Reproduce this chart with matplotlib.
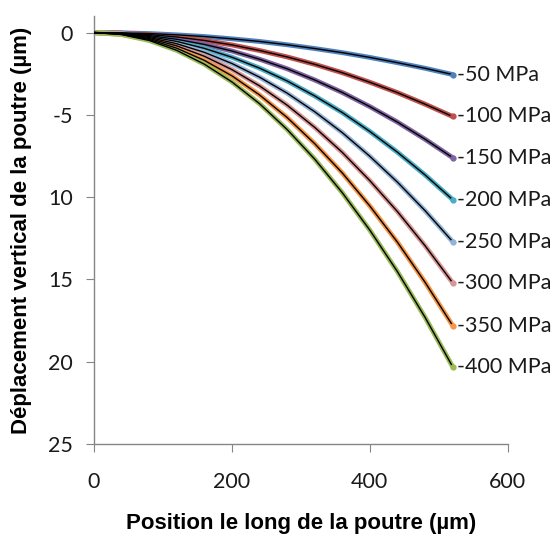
import matplotlib.pyplot as plt

# position along the beam (um)
x = [0, 40, 80, 120, 160, 200, 240, 280, 320, 360, 400, 440, 480, 520]

# vertical deflection (um) for each stress level
d50 = [0, -0.02, -0.06, -0.14, -0.24, -0.38, -0.54, -0.74, -0.97, -1.22, -1.51, -1.83, -2.17, -2.55]
d100 = [0, -0.03, -0.12, -0.27, -0.48, -0.75, -1.09, -1.48, -1.93, -2.44, -3.02, -3.65, -4.35, -5.1]
d150 = [0, -0.04, -0.18, -0.41, -0.72, -1.12, -1.62, -2.20, -2.88, -3.64, -4.50, -5.44, -6.48, -7.6]
d200 = [0, -0.06, -0.24, -0.54, -0.96, -1.50, -2.16, -2.94, -3.85, -4.86, -6.01, -7.27, -8.65, -10.15]
d250 = [0, -0.07, -0.30, -0.68, -1.20, -1.88, -2.71, -3.68, -4.81, -6.08, -7.52, -9.09, -10.82, -12.7]
d300 = [0, -0.09, -0.36, -0.81, -1.44, -2.25, -3.24, -4.41, -5.76, -7.28, -9.00, -10.88, -12.95, -15.2]
d350 = [0, -0.11, -0.42, -0.95, -1.69, -2.63, -3.79, -5.16, -6.75, -8.53, -10.54, -12.74, -15.17, -17.8]
d400 = [0, -0.12, -0.48, -1.08, -1.92, -3.0, -4.32, -5.89, -7.69, -9.73, -12.01, -14.53, -17.3, -20.3]

series = [d50, d100, d150, d200, d250, d300, d350, d400]
labels = ['-50 MPa', '-100 MPa', '-150 MPa', '-200 MPa',
          '-250 MPa', '-300 MPa', '-350 MPa', '-400 MPa']
colors = ['#4F81BD', '#C0504D', '#8064A2', '#4BACC6',
          '#95B3D7', '#D99694', '#F79646', '#9BBB59']

yticks = [0, -5, -10, -15, -20, -25]
ytick_labels = ['0', '-5', '10', '15', '20', '25']
xticks = [0, 200, 400, 600]

fig = plt.figure(figsize=(5.58, 5.37), dpi=100)
ax = fig.add_axes([0.1685, 0.1732, 0.7415, 0.7968])

for y, lab, c in zip(series, labels, colors):
    ax.plot(x, y, color=c, lw=3.5, solid_capstyle='round', zorder=2)
    ax.plot(x, y, color='black', lw=1.0, zorder=3)
    ax.plot(x[-1], y[-1], 'o', color=c, ms=3.5, zorder=4)
    ax.annotate(lab, (x[-1], y[-1]), xytext=(3, 0), textcoords='offset points',
                va='center', ha='left', fontsize=15.5, family='Lato', color='#1a1a1a')

ax.set_xlim(0, 600)
ax.set_ylim(-25, 1)
ax.set_yticks(yticks)
ax.set_yticklabels(ytick_labels)
ax.set_xticks(xticks)

for s in ['top', 'right']:
    ax.spines[s].set_visible(False)
for s in ['left', 'bottom']:
    ax.spines[s].set_color('#868686')
    ax.spines[s].set_linewidth(1.0)

ax.tick_params(axis='both', direction='out', length=6, color='#868686',
               labelsize=15.5, labelcolor='#1a1a1a')
ax.tick_params(axis='y', pad=9)
ax.tick_params(axis='x', pad=14)
for t in ax.get_xticklabels() + ax.get_yticklabels():
    t.set_family('Lato')

ax.set_xlabel('Position le long de la poutre (µm)', fontsize=16,
              fontweight='bold', family='Liberation Sans')
ax.set_ylabel('Déplacement vertical de la poutre (µm)', fontsize=16,
              fontweight='bold', family='Liberation Sans')
ax.yaxis.set_label_coords(-0.15, 0.5)
ax.xaxis.set_label_coords(0.5, -0.162)

fig.savefig('out.png', dpi=100)
